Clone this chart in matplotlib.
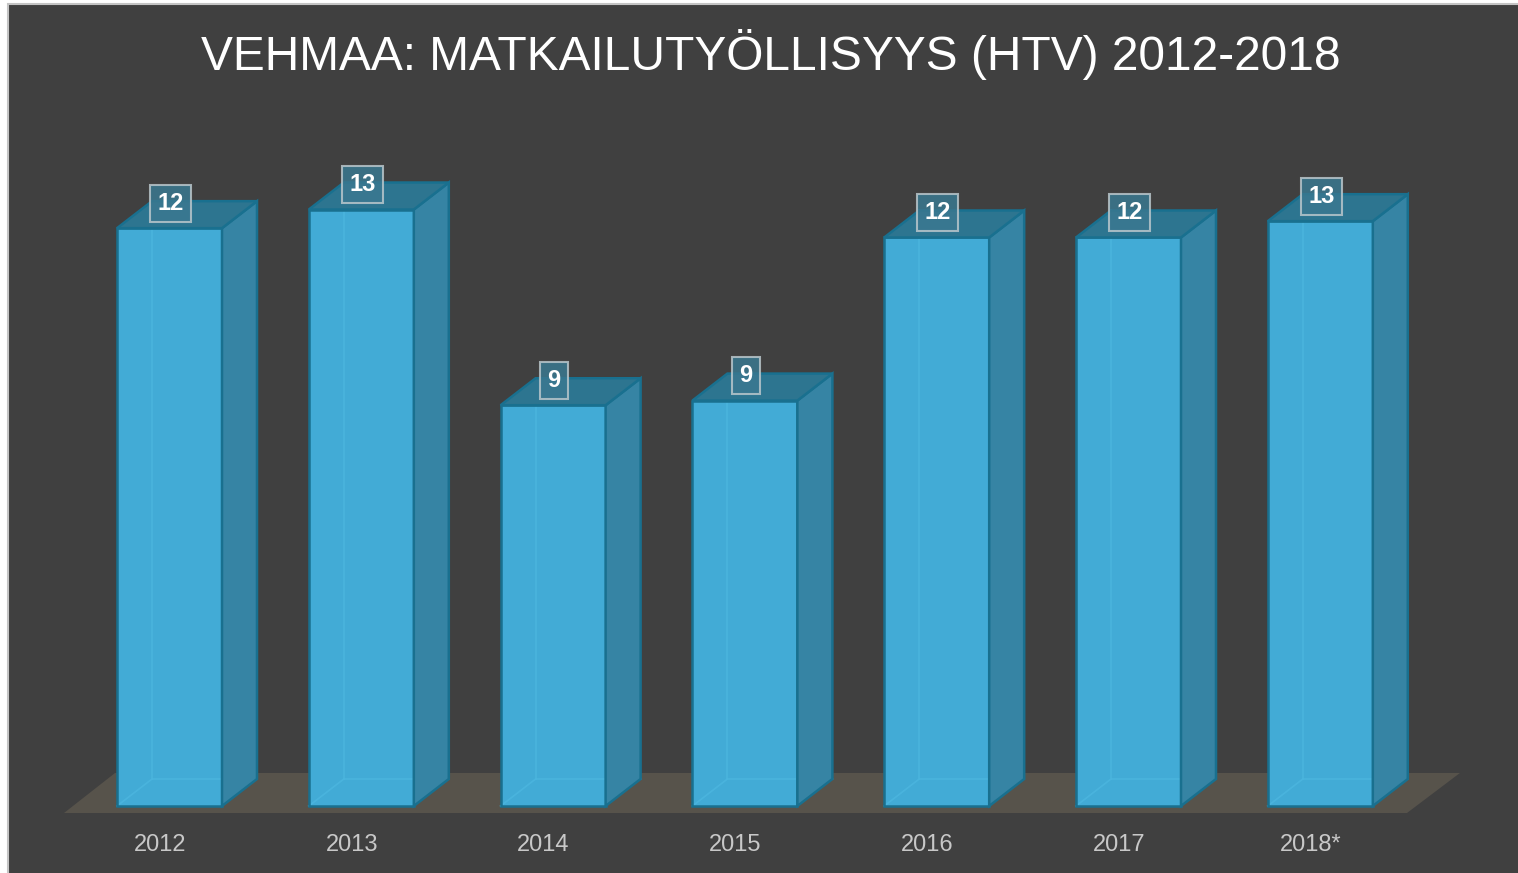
import matplotlib.pyplot as plt
from matplotlib.patches import Polygon, Rectangle

plt.rcParams['font.family'] = ['Liberation Sans', 'DejaVu Sans']

# data
years = ['2012', '2013', '2014', '2015', '2016', '2017', '2018*']
htv = [12.4, 12.8, 8.6, 8.7, 12.2, 12.2, 12.55]
title = 'VEHMAA: MATKAILUTYÖLLISYYS (HTV) 2012-2018'

# colours
bg = '#404040'
front_c = '#42abd6'
side_c = '#3684a4'
top_c = '#2d7590'
edge_c = '#19708f'
inner_c = '#4cb6df'
floor_c = '#57534b'

W, H = 1518, 873
fig = plt.figure(figsize=(W / 100, H / 100), dpi=100, facecolor='white')

# dark frame (open at right and bottom, like the cropped slide)
frame = fig.add_axes([0, 0, 1, 1])
frame.set_xlim(0, W)
frame.set_ylim(H, 0)
frame.axis('off')
frame.add_patch(Rectangle((8, 4), W, H, facecolor=bg, edgecolor='#c4c4c4', lw=1.5))

# data axes: category index on x, value on y
px_per_cat = 191.8
px_per_val = 46.6
x0_px, y0_px = 169.5, 806
ax = fig.add_axes([0, 0, 1, 1])
ax.patch.set_alpha(0)
ax.set_xlim(-x0_px / px_per_cat, (W - x0_px) / px_per_cat)
ax.set_ylim((y0_px - H) / px_per_val, y0_px / px_per_val)
ax.axis('off')

w = 105 / px_per_cat
dx = 35 / px_per_cat
dy = 27 / px_per_val

# floor
fy0, fy1 = -7 / px_per_val, 33 / px_per_val
floor = Polygon([(-0.55, fy0), (6.452, fy0), (6.728, fy1), (-0.284, fy1)],
                closed=True, facecolor=floor_c, edgecolor='none', zorder=1)
ax.add_patch(floor)

for i, v in enumerate(htv):
    xl, xr = i - w / 2, i + w / 2
    ax.add_patch(Rectangle((xl, 0), w, v, facecolor=front_c, edgecolor='none', zorder=2))
    # hidden back edges seen through the front face
    ax.plot([xl + dx, xl + dx], [dy, v + dy], color=inner_c, lw=1.2, alpha=0.8, zorder=3)
    ax.plot([xl, xl + dx, xr + dx], [0, dy, dy], color=inner_c, lw=1.2, alpha=0.8, zorder=3)
    ax.add_patch(Rectangle((xl, 0), w, v, facecolor='none', edgecolor=edge_c, lw=1.8, zorder=4))
    side = Polygon([(xr, 0), (xr + dx, dy), (xr + dx, v + dy), (xr, v)], closed=True,
                   facecolor=side_c, edgecolor=edge_c, lw=1.8, zorder=4)
    top = Polygon([(xl, v), (xr, v), (xr + dx, v + dy), (xl + dx, v + dy)], closed=True,
                  facecolor=top_c, edgecolor=edge_c, lw=1.8, zorder=4)
    ax.add_patch(side)
    ax.add_patch(top)
    ax.text(i + 0.005, v + 25 / px_per_val, f'{v:.0f}', ha='center', va='center', color='white',
            fontsize=17, fontweight='bold', zorder=6,
            bbox=dict(boxstyle='square,pad=0.3', facecolor='#3a7890', alpha=0.85,
                      edgecolor='#b9c6cb', lw=1.5))
    ax.text(i - 0.05, (y0_px - 845) / px_per_val, years[i], ha='center', va='center',
            color='#c8c8c8', fontsize=17, zorder=6)

frame.text(771, 54, title, ha='center', va='center', color='white', fontsize=34.5)

fig.savefig('out.png', dpi=100, facecolor=fig.get_facecolor())
